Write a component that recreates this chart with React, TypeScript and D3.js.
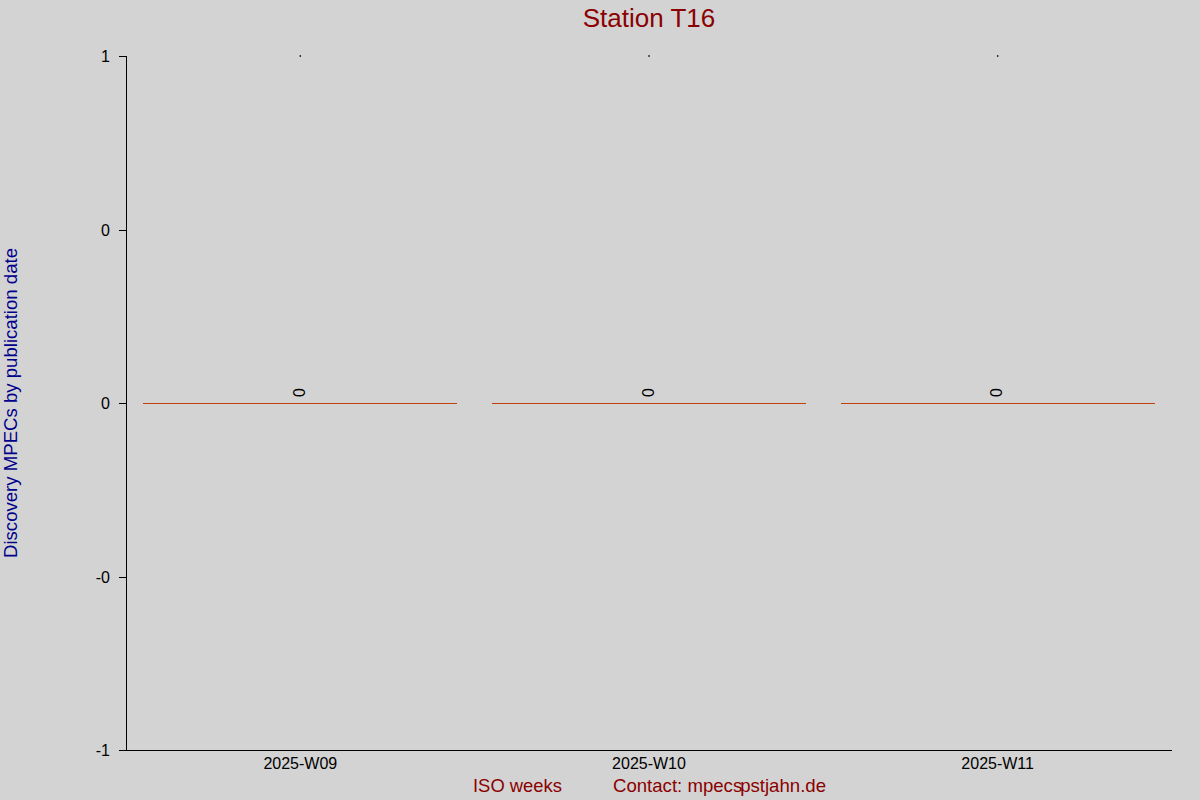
import * as d3 from "d3";

const weeks = ["2025-W09", "2025-W10", "2025-W11"];
const counts = [0, 0, 0];
const yTicks = [1, 0.5, 0, -0.5, -1];
const yTickLabels = ["1", "0", "0", "-0", "-1"];

const WIDTH = 1200;
const HEIGHT = 800;
const MARGIN = { top: 56, right: 28, bottom: 50, left: 126 };
const FONT = "'Liberation Sans', Arial, sans-serif";

export default function App() {
  const innerW = WIDTH - MARGIN.left - MARGIN.right;
  const innerH = HEIGHT - MARGIN.top - MARGIN.bottom;

  const x = d3.scaleBand().domain(weeks).range([0, innerW]).paddingInner(0.1).paddingOuter(0.05);
  const y = d3.scaleLinear().domain([-1, 1]).range([innerH, 0]);

  return (
    <svg
      width={WIDTH}
      height={HEIGHT}
      style={{ position: "absolute", left: 0, top: 0, background: "#d3d3d3", fontFamily: FONT }}
    >
      <rect width={WIDTH} height={HEIGHT} fill="#d3d3d3" />
      <text x={649} y={27} textAnchor="middle" fontSize={26} fill="#8b0000">
        Station T16
      </text>
      <g transform={`translate(${MARGIN.left},${MARGIN.top})`}>
        {/* bars (zero height, drawn as a line) */}
        {weeks.map((w, i) => {
          const top = Math.round(Math.min(y(counts[i]), y(0)));
          const h = Math.abs(y(counts[i]) - y(0));
          const cx = (x(w) ?? 0) + x.bandwidth() / 2;
          return (
            <g key={w}>
              <rect
                x={Math.round(x(w) ?? 0)}
                y={top}
                width={Math.round(x.bandwidth())}
                height={Math.max(1, h)}
                fill="#c0400c"
                shapeRendering="crispEdges"
              />
              <rect x={cx - 0.75} y={-0.75} width={1.5} height={1.5} fill="#000" />
              <text
                transform={`translate(${cx + 0.5},${top - 6}) rotate(-90)`}
                dominantBaseline="middle"
                fontSize={16}
                fill="#000"
              >
                {counts[i]}
              </text>
            </g>
          );
        })}
        {/* y axis */}
        <line x1={0.5} x2={0.5} y1={0} y2={innerH} stroke="#000" />
        {yTicks.map((t, i) => (
          <g key={i} transform={`translate(0,${Math.round(y(t)) + 0.5})`}>
            <line x1={-7} x2={0} stroke="#000" />
            <text x={-16} dy="0.35em" textAnchor="end" fontSize={16} fill="#000">
              {yTickLabels[i]}
            </text>
          </g>
        ))}
        {/* x axis */}
        <line x1={0} x2={innerW} y1={innerH + 0.5} y2={innerH + 0.5} stroke="#000" />
        {weeks.map((w) => (
          <text
            key={w}
            x={(x(w) ?? 0) + x.bandwidth() / 2}
            y={innerH + 19}
            textAnchor="middle"
            fontSize={16}
            fill="#000"
          >
            {w}
          </text>
        ))}
      </g>
      <text x={473} y={792} fontSize={18.4} fill="#8b0000">
        ISO weeks
      </text>
      <text x={613} y={792} fontSize={18.6} fill="#8b0000">
        Contact: mpecs<tspan dx={-2}>pstjahn.de</tspan>
      </text>
      <text
        transform={`translate(17,${MARGIN.top + innerH / 2}) rotate(-90)`}
        textAnchor="middle"
        fontSize={18.6}
        fill="#00008b"
      >
        Discovery MPECs by publication date
      </text>
    </svg>
  );
}
